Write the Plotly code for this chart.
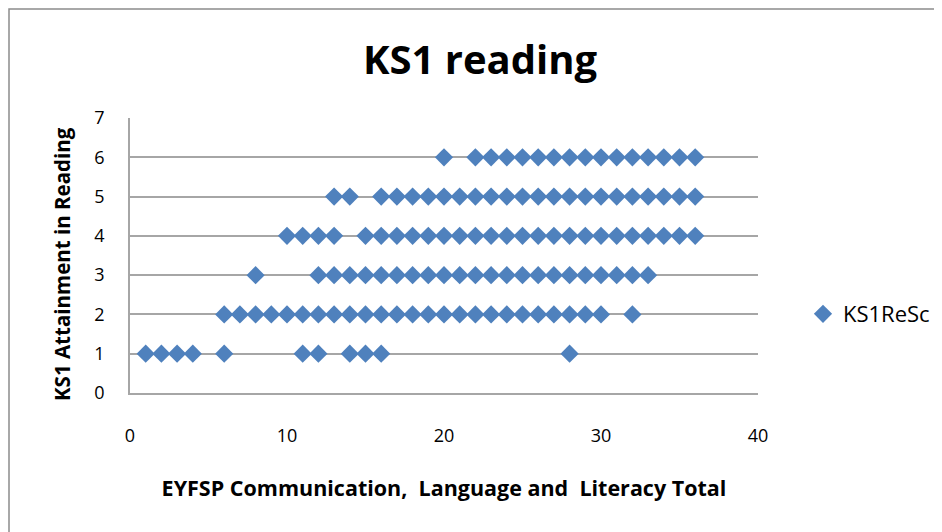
import plotly.graph_objects as go

# KS1 reading scores (y) at EYFSP totals (x), one list per attainment level
level1_x = [1, 2, 3, 4, 6, 11, 12, 14, 15, 16, 28]
level2_x = list(range(6, 31)) + [32]
level3_x = [8] + list(range(12, 34))
level4_x = [10, 11, 12, 13] + list(range(15, 37))
level5_x = [13, 14] + list(range(16, 37))
level6_x = [20] + list(range(22, 37))

levels = [1, 2, 3, 4, 5, 6]
xs_by_level = [level1_x, level2_x, level3_x, level4_x, level5_x, level6_x]

x_vals, y_vals = [], []
for lvl, xs in zip(levels, xs_by_level):
    for xv in xs:
        x_vals.append(xv)
        y_vals.append(lvl)

FONT = "Open Sans, Lato, Liberation Sans, Arial, sans-serif"

fig = go.Figure()
fig.add_trace(go.Scatter(
    x=x_vals, y=y_vals, mode="markers", name="KS1ReSc",
    marker=dict(symbol="diamond", size=14, color="#4F81BD",
                line=dict(width=0)),
))

OFF = 8
W, H = 942 - OFF, 532 - OFF
L, T = 130 - OFF, 118 - OFF
pw, ph = 628, 275
R, B = W - L - pw, H - T - ph

fig.update_layout(
    width=W, height=H,
    margin=dict(l=L, r=R, t=T, b=B, autoexpand=False),
    paper_bgcolor="white", plot_bgcolor="white",
    font=dict(family=FONT, color="#000000", size=18),
    title=dict(text="<b>KS1 reading</b>", x=(480 - OFF) / W, xanchor="center",
               y=1 - (60 - OFF) / H, yanchor="middle", yref="container",
               font=dict(size=40, family=FONT, color="#000000")),
    showlegend=True,
    legend=dict(x=(803 - 130) / pw, xanchor="left", y=(393 - 314) / ph,
                yanchor="middle", font=dict(size=22, family=FONT),
                bgcolor="rgba(0,0,0,0)", itemwidth=30),
    xaxis=dict(range=[0, 40], tickvals=[0, 10, 20, 30, 40],
               showgrid=False, zeroline=False, showline=True,
               linecolor="#A6A6A6", linewidth=1.5, ticks="",
               ticklabelstandoff=26, automargin=False,
               tickfont=dict(size=18, family=FONT),
               title=dict(text="<b>EYFSP Communication,  Language and  Literacy Total</b>",
                          font=dict(size=21.5, family=FONT), standoff=35)),
    yaxis=dict(range=[0, 7], tickvals=[0, 1, 2, 3, 4, 5, 6, 7],
               showgrid=True, gridcolor="#A6A6A6", gridwidth=1.5,
               zeroline=False, showline=True, linecolor="#A6A6A6",
               linewidth=1.5, ticks="", ticklabelstandoff=20, automargin=False,
               tickfont=dict(size=18, family=FONT)),
)

# y-axis title placed as in the reference (slightly below plot centre)
fig.add_annotation(text="<b>KS1 Attainment in Reading</b>", textangle=-90,
                   xref="paper", yref="paper",
                   x=(62 - 130) / pw, y=(393 - 264) / ph,
                   xanchor="center", yanchor="middle", showarrow=False,
                   font=dict(size=20.5, family=FONT, color="#000000"))

# outer chart-area border
fig.add_shape(type="rect", xref="paper", yref="paper",
              x0=(1 - L) / pw, x1=(W + 20 - L) / pw,
              y0=-(H + 20 - (T + ph)) / ph, y1=1 + (118 - 9) / ph,
              line=dict(color="#8C8C8C", width=1.5), fillcolor="rgba(0,0,0,0)",
              layer="below")

fig.write_html("out.html")
